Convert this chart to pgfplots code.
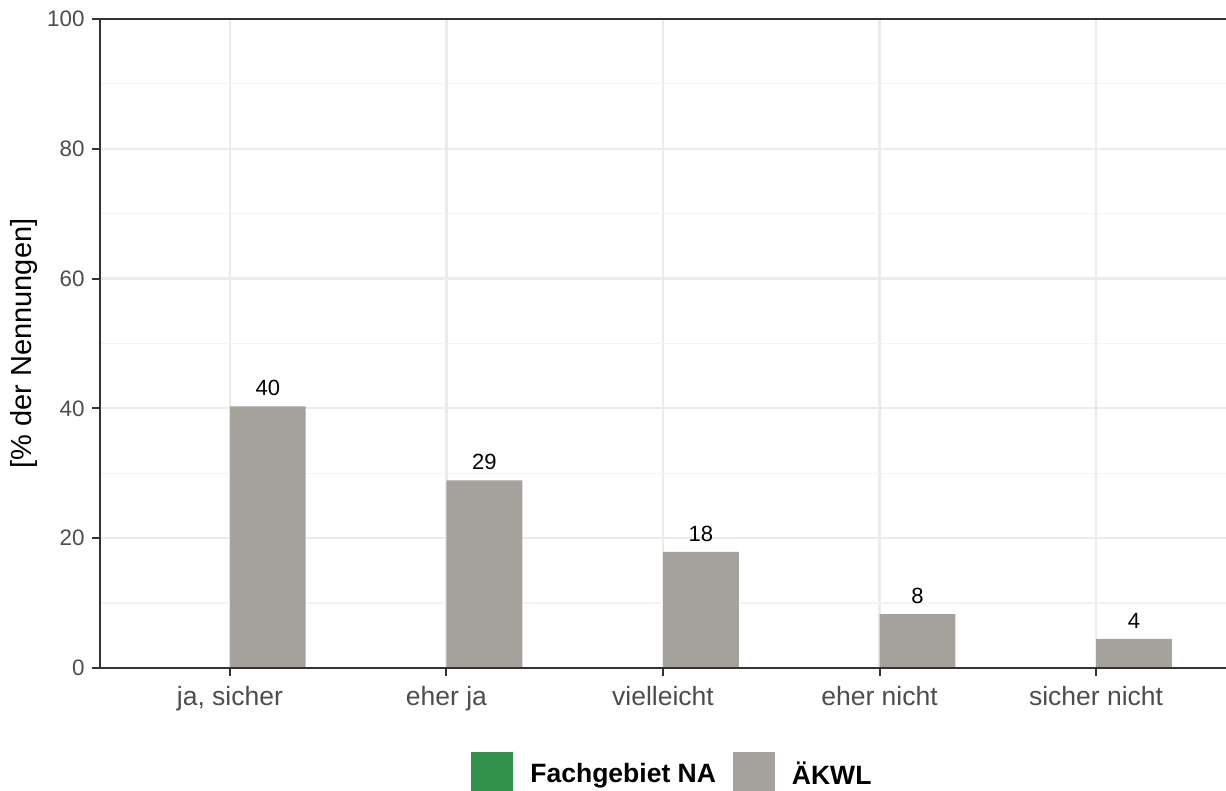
\documentclass[border=0pt]{standalone}
\usepackage{fontspec}
\setmainfont{Liberation Sans}
\usepackage{pgfplots}
\usepackage{pgfplotstable}
\pgfplotsset{compat=1.18}

\definecolor{akwl}{HTML}{A5A29B}
\definecolor{fgna}{HTML}{31904A}
\definecolor{gridmaj}{HTML}{EBEBEB}
\definecolor{gridmin}{HTML}{F3F3F3}
\definecolor{ticktext}{HTML}{4D4D4D}
\definecolor{axisline}{HTML}{333333}

% grid under the bars, axis lines over them
\pgfplotsset{
  layers/barsbelow/.define layer set={axis background,axis grid,main,axis ticks,axis lines,axis tick labels,axis descriptions,axis foreground}{
    grid style={/pgfplots/on layer=axis grid},
    tick style={/pgfplots/on layer=axis ticks},
    axis line style={/pgfplots/on layer=axis lines},
    label style={/pgfplots/on layer=axis descriptions},
    legend style={/pgfplots/on layer=axis descriptions},
    title style={/pgfplots/on layer=axis descriptions},
    ticklabel style={/pgfplots/on layer=axis tick labels},
    axis background@ style={/pgfplots/on layer=axis background},
  },
}

\pgfplotstableread{
x y lab
1 40.3 40
2 28.9 29
3 17.9 18
4 8.3 8
5 4.5 4
}\akwldata

\pgfplotstableread{
x y
1 0
2 0
3 0
4 0
5 0
}\fgnadata

\begin{document}
\begin{tikzpicture}
\begin{axis}[
    set layers=barsbelow,
    scale only axis,
    width=563pt, height=324.5pt,
    at={(0,0)}, anchor=south west,
    xmin=0.4, xmax=5.6,
    ymin=0, ymax=100,
    axis x line=box, axis y line=left,
    axis line style={-, axisline, line width=1pt},
    xtick={1,2,3,4,5},
    xticklabels={{ja, sicher}, eher ja, vielleicht, eher nicht, sicher nicht},
    xtick pos=left,
    ytick={0,20,40,60,80,100},
    minor ytick={10,30,50,70,90},
    tick align=outside,
    major tick length=4pt,
    minor tick length=0pt,
    tick style={axisline, line width=1pt},
    ymajorgrids, yminorgrids, xmajorgrids,
    major grid style={gridmaj, line width=1.1pt},
    minor grid style={gridmin, line width=0.6pt},
    /pgf/number format/assume math mode=true,
    yticklabel style={font=\fontsize{11.2}{13}\selectfont, text=ticktext, inner sep=0pt, xshift=-3.5pt},
    xticklabel style={font=\fontsize{13.25}{15}\selectfont, text=ticktext, inner sep=0pt, yshift=-5pt},
    ylabel={[\% der Nennungen]},
    every axis y label/.style={at={(axis description cs:-0.0675,0.5)}, rotate=90, anchor=center,
        font=\fontsize{14.5}{17}\selectfont},
    legend columns=2,
    legend style={at={(axis description cs:0.5075,-0.162)}, anchor=center, draw=none, fill=none,
        font=\fontsize{13.25}{15}\selectfont\bfseries, nodes={inner sep=0pt},
        /tikz/every odd column/.append style={column sep=8.5pt},
        /tikz/every even column/.append style={column sep=8.5pt}},
    legend image code/.code={\fill[#1] (0pt,-9.75pt) rectangle (21pt,11.25pt);},
]
\addplot[ybar, bar width=37.9pt, bar shift=-18.95pt, fill=fgna, draw=none]
    table[x=x, y=y] {\fgnadata};
\addlegendentry{Fachgebiet NA}
\addplot[ybar, bar width=37.9pt, bar shift=18.95pt, fill=akwl, draw=none,
    nodes near coords, point meta=explicit symbolic,
    nodes near coords style={font=\fontsize{11}{13}\selectfont, text=black, inner sep=0pt,
        anchor=south, xshift=18.95pt, yshift=5pt}]
    table[x=x, y=y, meta=lab] {\akwldata};
\addlegendentry{ÄKWL}
\end{axis}
\pgfresetboundingbox
\path[use as bounding box] (-50pt,-61.5pt) rectangle (563pt,334pt);
\end{tikzpicture}
\end{document}
